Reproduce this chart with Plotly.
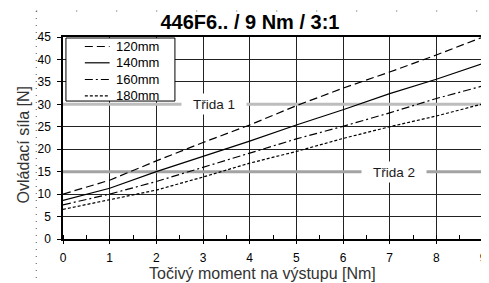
import plotly.graph_objects as go

# ---- data ----
torque = [0, 1, 2, 3, 4, 5, 6, 7, 8, 9]
series_names = ["120mm", "140mm", "160mm", "180mm"]
force_120 = [10.0, 13.1, 17.4, 21.5, 25.4, 29.7, 33.6, 37.2, 41.0, 45.0]
force_140 = [8.6, 11.3, 15.0, 18.4, 21.8, 25.4, 28.8, 32.4, 35.6, 39.1]
force_160 = [7.6, 10.0, 12.8, 16.0, 19.1, 22.3, 25.1, 28.1, 31.3, 34.1]
force_180 = [6.6, 8.8, 10.9, 13.8, 16.9, 19.5, 22.4, 25.0, 27.4, 30.1]
class_levels = [30, 15]
class_labels = ["Třida 1", "Třida 2"]
class_label_x = [3.23, 7.1]
x_ticks = [0, 1, 2, 3, 4, 5, 6, 7, 8, 9]
y_ticks = [0, 5, 10, 15, 20, 25, 30, 35, 40, 45]
title_text = "446F6.. / 9 Nm / 3:1"
x_title = "Točivý moment na výstupu [Nm]"
y_title = "Ovládací síla [N]"

# ---- styles ----
dashes = ["8px,4px", "solid", "8px,3px,2px,3px", "3px,2px"]
class_colors = ["#bdbdbd", "#a3a3a3"]
FONT = "Arial, 'Liberation Sans', sans-serif"

fig = go.Figure()
all_series = [force_120, force_140, force_160, force_180]
for name, ys, d in zip(series_names, all_series, dashes):
    fig.add_trace(go.Scatter(x=torque, y=ys, mode="lines", name=name,
                             line=dict(color="black", width=1.2, dash=d),
                             showlegend=False))

# class lines (above the grid, below the curves)
for lvl, lab, lx, col in zip(class_levels, class_labels, class_label_x, class_colors):
    fig.add_shape(type="line", xref="x", yref="y", x0=torque[0], x1=torque[-1],
                  y0=lvl, y1=lvl, line=dict(color=col, width=3), layer="between")
    fig.add_annotation(x=lx, y=lvl, xref="x", yref="y", text=lab, showarrow=False,
                       bgcolor="white", width=62, height=18,
                       font=dict(family=FONT, size=13.5, color="#1a1a1a"))

# manual compact legend
fig.add_shape(type="rect", xref="paper", yref="paper", x0=0.007, x1=0.2665,
              y0=0.683, y1=0.995, line=dict(color="black", width=1),
              fillcolor="white", layer="above")
row_py = [46.5, 62.8, 79.5, 95.8]
for name, d, py in zip(series_names, dashes, row_py):
    yy = (239 - py) / 202
    fig.add_shape(type="line", xref="paper", yref="paper", x0=0.052, x1=0.111,
                  y0=yy, y1=yy, line=dict(color="black", width=1.2, dash=d),
                  layer="above")
    fig.add_annotation(x=0.1226, y=yy, xref="paper", yref="paper", text=name,
                       showarrow=False, xanchor="left", yanchor="middle",
                       font=dict(family=FONT, size=13, color="black"))

# axis titles
fig.add_annotation(x=(264 - 63) / 424, y=(239 - 273) / 202, xref="paper", yref="paper",
                   text=x_title, showarrow=False, xanchor="center", yanchor="middle",
                   font=dict(family=FONT, size=16, color="#333"))
fig.add_annotation(x=(23 - 63) / 424, y=(239 - 145) / 202, xref="paper", yref="paper",
                   text=y_title, showarrow=False, textangle=-90,
                   xanchor="center", yanchor="middle",
                   font=dict(family=FONT, size=16, color="#333"))

# dotted outer border (chart area frame)
fig.add_shape(type="line", xref="paper", yref="paper", x0=-0.0637, x1=-0.0637,
              y0=1.1287, y1=-0.22, line=dict(color="#555", width=1, dash="1px,6px"))
fig.add_shape(type="line", xref="paper", yref="paper", x0=-0.0637, x1=1.01,
              y0=1.1287, y1=1.1287, line=dict(color="#555", width=1, dash="1px,39px"))

# page body has an 8px margin, so the figure is sized to fit the 489x283 window
fig.update_layout(
    width=481, height=275, autosize=False,
    margin=dict(l=55, r=2, t=29, b=44),
    paper_bgcolor="white", plot_bgcolor="white",
    font=dict(family=FONT, size=12, color="black"),
    title=dict(text="<b>" + title_text + "</b>", x=242 / 481, xanchor="center",
               y=1 - 14 / 275, yanchor="middle", yref="container",
               font=dict(family=FONT, size=20, color="black")),
)
fig.update_xaxes(range=[0, 9], tickvals=x_ticks, showgrid=True, gridcolor="#222",
                 gridwidth=1, zeroline=False, showline=True, linecolor="black",
                 linewidth=1.5, mirror=True, ticks="outside", ticklen=3,
                 tickcolor="black", ticklabelstandoff=4,
                 minor=dict(dtick=0.5, ticks="inside", ticklen=4, tickcolor="black",
                            showgrid=False),
                 tickfont=dict(family=FONT, size=12))
fig.update_yaxes(range=[0, 45], tickvals=y_ticks, showgrid=True, gridcolor="#222",
                 gridwidth=1, zeroline=False, showline=True, linecolor="black",
                 linewidth=1.5, mirror=True, ticks="outside", ticklen=4,
                 tickcolor="black", ticklabelstandoff=4,
                 tickfont=dict(family=FONT, size=12))

fig.write_html("out.html")
